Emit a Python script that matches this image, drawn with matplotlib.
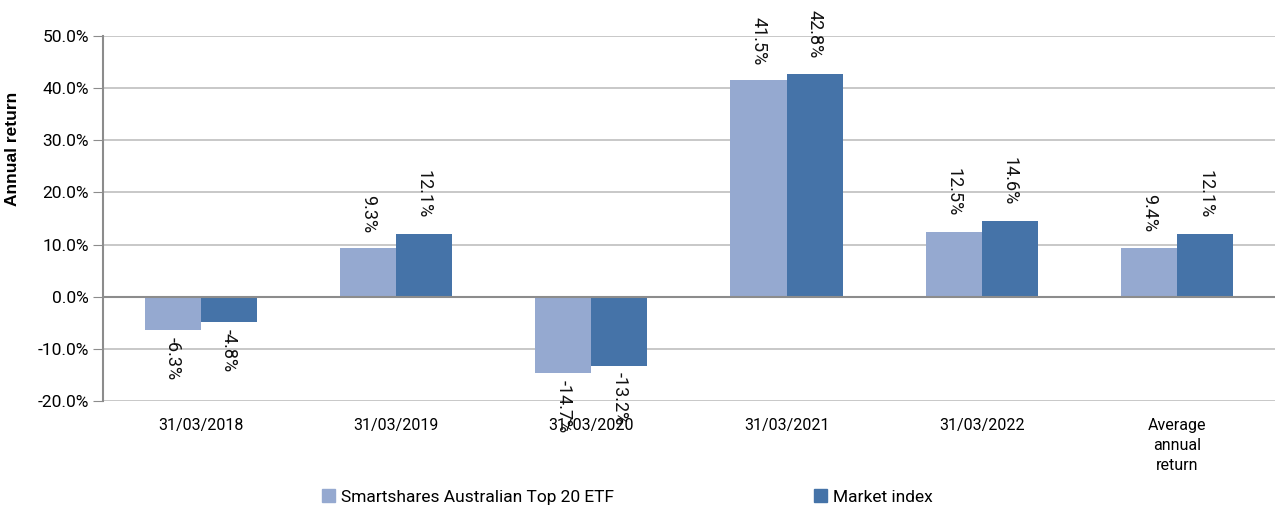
import matplotlib
matplotlib.use("Agg")
import matplotlib.pyplot as plt
import numpy as np
from matplotlib.patches import Patch

categories = ["31/03/2018", "31/03/2019", "31/03/2020", "31/03/2021", "31/03/2022", "Average\nannual\nreturn"]
etf = [-6.3, 9.3, -14.7, 41.5, 12.5, 9.4]
market = [-4.8, 12.1, -13.2, 42.8, 14.6, 12.1]
series_names = ["Smartshares Australian Top 20 ETF", "Market index"]
yticks = [-20, -10, 0, 10, 20, 30, 40, 50]

c_light = "#95A9D0"
c_dark = "#4573A8"
grid_c = "#BFBFBF"
axis_c = "#8C8C8C"

plt.rcParams['font.family'] = ['Roboto', 'DejaVu Sans']

fig = plt.figure(figsize=(12.76, 5.11), dpi=100)
ax = fig.add_axes([103/1276, 1-401/511, 1-103/1276-0.001, (401-36)/511])

x = np.arange(len(categories))
w = 0.287
b1 = ax.bar(x - w/2, etf, w, color=c_light, zorder=3)
b2 = ax.bar(x + w/2, market, w, color=c_dark, zorder=3)

for bars, vals in ((b1, etf), (b2, market)):
    for rect, v in zip(bars, vals):
        cx = rect.get_x() + rect.get_width()/2
        if v >= 0:
            ax.annotate(f"{v:.1f}%", (cx, v), xytext=(0, 11), textcoords="offset points",
                        rotation=270, ha="center", va="bottom", fontsize=13, color="#111111")
        else:
            ax.annotate(f"{v:.1f}%", (cx, v), xytext=(0, -5), textcoords="offset points",
                        rotation=270, ha="center", va="top", fontsize=13, color="#111111")

ax.set_xlim(-0.5, len(categories) - 0.5)
ax.set_ylim(-20, 50)
ax.set_yticks(yticks)
ax.set_yticklabels([f"{t:.1f}%" for t in yticks], fontsize=12.5)
ax.yaxis.grid(True, color=grid_c, linewidth=1.2, zorder=0)
ax.axhline(0, color=axis_c, linewidth=1.5, zorder=4)

ax.set_xticks(x)
ax.set_xticklabels(categories, fontsize=11.5, linespacing=1.45, va="top")
ax.tick_params(axis="x", length=0, pad=12)
ax.tick_params(axis="y", length=7, color=axis_c, pad=3)

for s in ("top", "right", "bottom"):
    ax.spines[s].set_visible(False)
ax.spines["left"].set_color(axis_c)
ax.spines["left"].set_linewidth(1.5)

ax.set_ylabel("Annual return", fontsize=12.5, fontweight="bold",
              family=["Liberation Sans", "DejaVu Sans"], labelpad=6)
ax.yaxis.set_label_coords(-0.071, 0.69)

handles = [Patch(color=c_light), Patch(color=c_dark)]
fig.legend(handles, series_names, loc="center", bbox_to_anchor=(0.4915, 0.027),
           ncol=2, frameon=False, fontsize=12.5, handlelength=0.75, handleheight=0.75,
           handletextpad=0.35, columnspacing=11.5)

fig.savefig("out.png", dpi=100)
